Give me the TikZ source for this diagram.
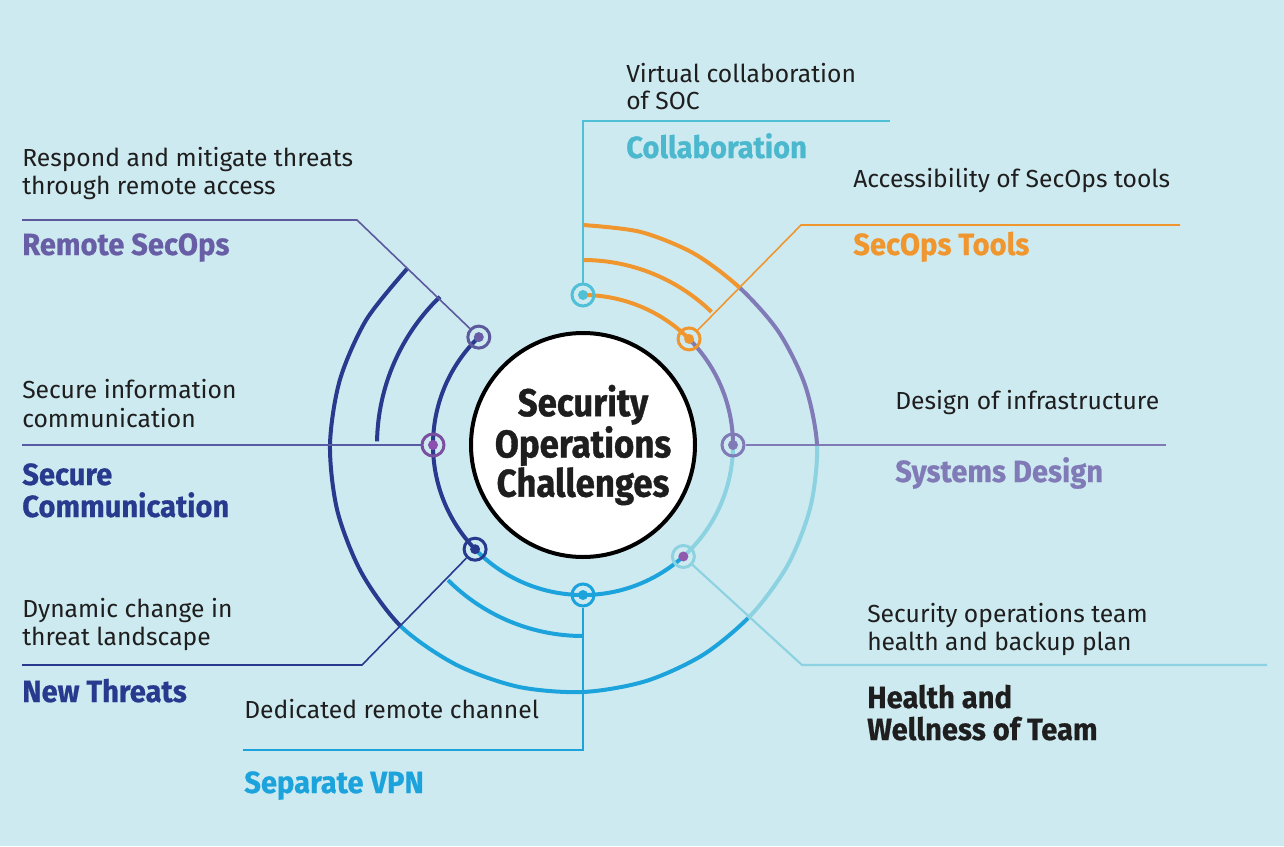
\documentclass[tikz,border=0pt]{standalone}
\usepackage{fontspec}
\setmainfont{Fira Sans}
\newfontfamily\headfont{Fira Sans}[FakeStretch=0.95, BoldFeatures={FakeBold=0.6}]
\newfontfamily\titlefont{Fira Sans}[FakeStretch=0.9, BoldFeatures={FakeBold=1.0}]
\definecolor{bgc}{RGB}{206,234,241}
\definecolor{navyc}{RGB}{40,58,142}
\definecolor{remc}{RGB}{104,94,166}
\definecolor{remline}{RGB}{92,90,156}
\definecolor{secline}{RGB}{90,91,165}
\definecolor{secring}{RGB}{122,79,159}
\definecolor{secdot}{RGB}{139,80,176}
\definecolor{orangec}{RGB}{240,150,47}
\definecolor{cyanc}{RGB}{79,192,213}
\definecolor{collabtxt}{RGB}{75,184,206}
\definecolor{sysc}{RGB}{128,123,182}
\definecolor{ltcyan}{RGB}{141,210,224}
\definecolor{hdot}{RGB}{143,91,174}
\definecolor{bluec}{RGB}{28,163,220}
\definecolor{txtc}{RGB}{30,30,30}
\newcommand\outerring[1]{\draw[#1, line width=3pt] plot[smooth] coordinates {(90:220) (75:220.7) (60:221.3) (45:222) (30:226) (15:230) (0:234) (-15:235.7) (-30:237.3) (-45:239) (-60:241.7) (-75:244.3) (-90:247) (-105:250.3) (-120:253.7) (-135:257) (-150:255.7) (-165:254.3) (-180:253) (-195:251.7) (-210:250.3) (-225:249)};}
\tikzset{
  ringarc/.style={line width=3pt},
  conn/.style={line width=1.6pt},
  marker/.style 2 args={circle, draw=#1, line width=2.25pt, minimum size=16.5pt, inner sep=0pt,
    path picture={\fill[#2] (path picture bounding box.center) circle[radius=3.75pt];}},
  desc/.style={anchor=base west, inner sep=0pt, text=txtc, font=\fontsize{18.5}{21}\selectfont},
  head/.style={anchor=base west, inner sep=0pt, font=\headfont\bfseries\fontsize{23}{25}\selectfont},
}
\begin{document}
\begin{tikzpicture}[x=0.75pt,y=0.75pt]
\fill[bgc] (0,0) rectangle (1284,-846);
\useasboundingbox (0,0) rectangle (1284,-846);

\begin{scope}[shift={(583,-445)}]
  % outer ring
  \begin{scope}\clip (0,0) -- (45:420) -- (72:420) -- (100:420) -- cycle; \outerring{orangec} \end{scope}
  \begin{scope}\clip (0,0) -- (0:420) -- (22:420) -- (45:420) -- cycle; \outerring{sysc} \end{scope}
  \begin{scope}\clip (0,0) -- (-46.4:420) -- (-23:420) -- (0:420) -- cycle; \outerring{ltcyan} \end{scope}
  \begin{scope}\clip (0,0) -- (-135.5:420) -- (-110:420) -- (-90:420) -- (-70:420) -- (-46.4:420) -- cycle; \outerring{bluec} \end{scope}
  \begin{scope}\clip (0,0) -- (100:420) -- (125:420) -- (150:420) -- (175:420) -- (200:420) -- (224.5:420) -- cycle; \outerring{navyc} \end{scope}
  % second ring
  \draw[ringarc, orangec] (90:185) arc[start angle=90, end angle=46, radius=185];
  \draw[ringarc, navyc] (134:206) arc[start angle=134, end angle=179, radius=206];
  \draw[ringarc, bluec] (225:191) arc[start angle=225, end angle=270, radius=191];
  % inner ring
  \draw[ringarc, orangec] (90:150) arc[start angle=90, end angle=45, radius=150];
  \draw[ringarc, sysc] (45:150) arc[start angle=45, end angle=0, radius=150];
  \draw[ringarc, ltcyan] (0:150) arc[start angle=0, end angle=-48, radius=150];
  \draw[ringarc, bluec] (-48:150) arc[start angle=-48, end angle=-136, radius=150];
  \draw[ringarc, navyc] (-136:150) arc[start angle=-136, end angle=-226, radius=150];
  % markers
  \node[marker={cyanc}{cyanc}] (mCol) at (90:150) {};
  \node[marker={orangec}{orangec}] (mTool) at (45:150) {};
  \node[marker={sysc}{sysc}] (mSys) at (0:150) {};
  \node[marker={ltcyan}{hdot}] (mHealth) at (-48:150) {};
  \node[marker={bluec}{bluec}] (mVPN) at (-90:150) {};
  \node[marker={navyc}{navyc}] (mNew) at (224:150) {};
  \node[marker={secring}{secdot}] (mSec) at (180:150) {};
  \node[marker={remline}{remc}] (mRem) at (134:150) {};
\end{scope}

% centre
\node[circle, fill=white, draw=black, line width=3pt, minimum size=168pt, inner sep=0pt, align=center,
  font=\titlefont\bfseries\fontsize{29}{27.4}\selectfont, text=txtc] (center) at (583,-445)
  {Security\\Operations\\Challenges};

% connector end points
\coordinate (colB) at (583,-121); \coordinate (colE) at (890,-121);
\coordinate (toolB) at (801,-225); \coordinate (toolE) at (1180,-225);
\coordinate (sysE) at (1166,-445);
\coordinate (hB) at (802,-665); \coordinate (hE) at (1267,-665);
\coordinate (vB) at (583,-750); \coordinate (vE) at (243,-750);
\coordinate (nB) at (362,-665); \coordinate (nE) at (22,-665);
\coordinate (sE) at (22,-445);
\coordinate (rB) at (357,-220); \coordinate (rE) at (22,-220);

\draw[conn, cyanc] (mCol) -- (colB) -- (colE);
\draw[conn, orangec, line width=1.2pt] (mTool) -- (toolB) -- (toolE);
\draw[conn, sysc] (mSys) -- (sysE);
\draw[conn, ltcyan] (mHealth) -- (hB) -- (hE);
\draw[conn, bluec] (mVPN) -- (vB) -- (vE);
\draw[conn, navyc, line width=1.2pt] (mNew) -- (nB) -- (nE);
\draw[conn, secline] (mSec) -- (sE);
\draw[conn, remline, line width=1.2pt] (mRem) -- (rB) -- (rE);

% texts
\node[desc] (t1a) at (22,-166) {Respond and mitigate threats};
\node[desc] (t1b) at (22,-194) {through remote access};
\node[head, text=remc] (h1) at (22,-255) {Remote SecOps};

\node[desc] (t2a) at (22,-398) {Secure information};
\node[desc] (t2b) at (22,-427) {communication};
\node[head, text=navyc] (h2a) at (22,-485) {Secure};
\node[head, text=navyc] (h2b) at (22,-517) {Communication};

\node[desc] (t3a) at (22,-617) {Dynamic change in};
\node[desc] (t3b) at (22,-645) {threat landscape};
\node[head, text=navyc] (h3) at (22,-702) {New Threats};

\node[desc] (t4) at (244,-718) {Dedicated remote channel};
\node[head, text=bluec] (h4) at (244,-793) {Separate VPN};

\node[desc] (t5a) at (626,-82) {Virtual collaboration};
\node[desc] (t5b) at (626,-109) {of SOC};
\node[head, text=collabtxt] (h5) at (626,-158) {Collaboration};

\node[desc] (t6) at (853,-187) {Accessibility of SecOps tools};
\node[head, text=orangec] (h6) at (853,-255) {SecOps Tools};

\node[desc] (t7) at (895,-409) {Design of infrastructure};
\node[head, text=sysc] (h7) at (895,-482) {Systems Design};

\node[desc] (t8a) at (867,-622) {Security operations team};
\node[desc] (t8b) at (867,-650) {health and backup plan};
\node[head, text=txtc] (h8a) at (867,-708) {Health and};
\node[head, text=txtc] (h8b) at (867,-740) {Wellness of Team};
\end{tikzpicture}
\end{document}
